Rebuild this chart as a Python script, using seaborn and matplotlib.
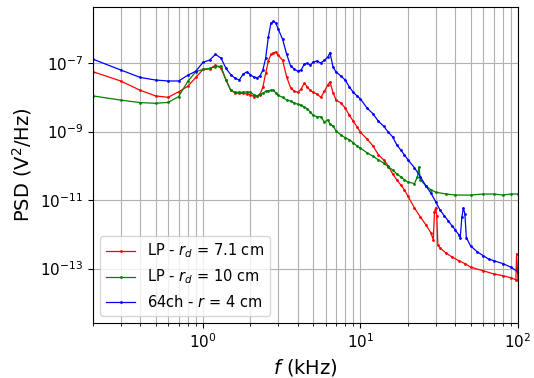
import pandas as pd
import numpy as np
import matplotlib
matplotlib.use("Agg")
import matplotlib.pyplot as plt
import matplotlib.ticker as mticker
import seaborn as sns

# --- data (f in kHz, PSD in V^2/Hz) ---
f_lp71 = [0.2, 0.3, 0.4, 0.5, 0.6, 0.7, 0.8, 0.9, 1.0,
          1.1, 1.2, 1.3, 1.4, 1.5, 1.6, 1.7, 1.8, 1.9, 2.0,
          2.1, 2.2, 2.3, 2.4, 2.5, 2.6, 2.7, 2.8, 2.9, 3.0,
          3.2, 3.4, 3.6, 3.8, 4.0, 4.2, 4.4, 4.6, 4.8,
          5.0, 5.3, 5.6, 5.9, 6.2, 6.4, 6.7,
          7.0, 7.5, 8.0, 8.5, 9.0, 9.5, 10,
          11, 12, 13, 14, 15, 16, 17, 18, 19, 20,
          22, 24, 26, 28, 29, 29.5, 30, 30.5, 31, 32,
          35, 38, 42, 46, 50, 60, 70, 80, 90, 97, 98, 100]
psd_lp71 = [5.6e-8, 3.0e-8, 1.6e-8, 1.1e-8, 1.0e-8, 1.45e-8, 2.1e-8, 3.8e-8, 6.5e-8,
            6.7e-8, 8.7e-8, 7.1e-8, 3.2e-8, 1.6e-8, 1.35e-8, 1.3e-8, 1.3e-8, 1.25e-8, 1.2e-8,
            1.05e-8, 1.1e-8, 1.2e-8, 2.0e-8, 5.0e-8, 1.15e-7, 1.8e-7, 2.0e-7, 2.1e-7, 1.7e-7,
            1.22e-7, 3.9e-8, 1.9e-8, 1.5e-8, 1.4e-8, 1.75e-8, 2.6e-8, 2.0e-8, 1.6e-8,
            1.4e-8, 1.25e-8, 1.0e-8, 1.5e-8, 2.3e-8, 2.8e-8, 1.35e-8,
            8.3e-9, 6.9e-9, 4.9e-9, 3.0e-9, 2.0e-9, 1.4e-9, 9.5e-10,
            6.1e-10, 3.8e-10, 2.1e-10, 1.5e-10, 1.0e-10, 5.8e-11, 3.9e-11, 2.8e-11, 2.0e-11, 1.3e-11,
            5.9e-12, 3.2e-12, 1.9e-12, 1.1e-12, 6.9e-13, 4.5e-12, 5.9e-12, 3.5e-12, 4.9e-13, 4.0e-13,
            2.8e-13, 2.2e-13, 1.7e-13, 1.4e-13, 1.1e-13, 8.6e-14, 7.0e-14, 6.2e-14, 5.4e-14, 4.7e-14, 2.7e-13, 4.7e-14]

f_lp10 = [0.2, 0.3, 0.4, 0.5, 0.6, 0.7, 0.8, 0.9, 1.0,
          1.1, 1.2, 1.3, 1.4, 1.5, 1.6, 1.7, 1.8, 1.9, 2.0,
          2.1, 2.2, 2.3, 2.4, 2.5, 2.6, 2.7, 2.8, 2.9, 3.0,
          3.2, 3.4, 3.6, 3.8, 4.0, 4.2, 4.4, 4.6, 4.8,
          5.0, 5.3, 5.6, 5.9, 6.2, 6.4, 6.7,
          7.0, 7.5, 8.0, 8.5, 9.0, 9.5, 10,
          11, 12, 13, 14, 15, 16, 17, 18, 19, 20,
          22, 23, 23.5, 24, 26, 28, 30, 35, 40, 50, 60, 70, 80, 90, 100]
psd_lp10 = [1.1e-8, 8.3e-9, 7.0e-9, 6.7e-9, 7.1e-9, 1.05e-8, 2.9e-8, 5.6e-8, 6.5e-8,
            7.0e-8, 7.8e-8, 8.2e-8, 3.2e-8, 1.6e-8, 1.4e-8, 1.4e-8, 1.4e-8, 1.45e-8, 1.4e-8,
            1.2e-8, 1.1e-8, 1.25e-8, 1.3e-8, 1.5e-8, 1.55e-8, 1.6e-8, 1.6e-8, 1.35e-8, 1.15e-8,
            1.0e-8, 8.3e-9, 7.8e-9, 6.8e-9, 6.3e-9, 5.9e-9, 5.2e-9, 4.6e-9, 3.7e-9,
            3.0e-9, 2.7e-9, 2.7e-9, 1.9e-9, 2.2e-9, 1.65e-9, 1.45e-9,
            1.05e-9, 8.0e-10, 6.6e-10, 5.8e-10, 4.7e-10, 3.8e-10, 3.3e-10,
            2.4e-10, 1.9e-10, 1.5e-10, 1.2e-10, 9.4e-11, 7.6e-11, 5.8e-11, 4.8e-11, 3.9e-11, 3.4e-11,
            3.0e-11, 4.8e-11, 9.4e-11, 3.9e-11, 2.6e-11, 2.0e-11, 1.7e-11, 1.5e-11, 1.4e-11,
            1.4e-11, 1.5e-11, 1.5e-11, 1.4e-11, 1.5e-11, 1.5e-11]

f_64ch = [0.2, 0.3, 0.4, 0.5, 0.6, 0.7, 0.8, 0.9, 1.0,
          1.1, 1.2, 1.3, 1.4, 1.5, 1.6, 1.7, 1.8, 1.9, 2.0,
          2.1, 2.2, 2.3, 2.4, 2.5, 2.6, 2.7, 2.8, 2.9, 3.0,
          3.2, 3.4, 3.6, 3.8, 4.0, 4.2, 4.4, 4.6, 4.8,
          5.0, 5.3, 5.6, 5.9, 6.2, 6.4, 6.7,
          7.0, 7.5, 8.0, 8.5, 9.0, 9.5, 10,
          11, 12, 13, 14, 15, 16, 17, 18, 19, 20,
          22, 24, 26, 28, 30, 32, 34, 36, 38, 40,
          42, 43, 44, 45, 46, 47,
          50, 55, 60, 65, 70, 80, 90, 100]
psd_64ch = [1.3e-7, 6.3e-8, 3.8e-8, 3.2e-8, 3.0e-8, 3.0e-8, 4.4e-8, 5.8e-8, 1.05e-7,
            1.22e-7, 1.8e-7, 1.4e-7, 7.0e-8, 4.6e-8, 3.6e-8, 3.2e-8, 4.8e-8, 5.5e-8, 4.6e-8,
            3.9e-8, 3.7e-8, 4.2e-8, 6.3e-8, 1.4e-7, 5.8e-7, 1.47e-6, 1.65e-6, 1.47e-6, 1.0e-6,
            5.0e-7, 1.8e-7, 8.2e-8, 6.7e-8, 5.8e-8, 6.3e-8, 9.3e-8, 1.0e-7, 8.7e-8,
            1.07e-7, 1.15e-7, 1.0e-7, 1.22e-7, 1.5e-7, 2.0e-7, 7.6e-8,
            5.5e-8, 4.2e-8, 3.2e-8, 2.0e-8, 1.4e-8, 1.1e-8, 8.9e-9,
            4.9e-9, 3.3e-9, 2.0e-9, 1.45e-9, 9.7e-10, 7.0e-10, 4.1e-10, 2.9e-10, 2.1e-10, 1.5e-10,
            8.8e-11, 4.8e-11, 2.6e-11, 1.6e-11, 9.0e-12, 5.1e-12, 3.5e-12, 2.5e-12, 1.8e-12, 1.35e-12,
            9.8e-13, 8.0e-13, 3.1e-12, 5.9e-12, 4.0e-12, 8.0e-13,
            4.6e-13, 3.1e-13, 2.4e-13, 1.9e-13, 1.7e-13, 1.4e-13, 1.1e-13, 8.0e-14]

labels = ["LP - $r_d$ = 7.1 cm", "LP - $r_d$ = 10 cm", "64ch - $r$ = 4 cm"]
colors = ["red", "green", "blue"]


def make_plot():
    series = [(f_lp71, psd_lp71), (f_lp10, psd_lp10), (f_64ch, psd_64ch)]

    fig = plt.figure(figsize=(5.34, 3.78), dpi=100)
    ax = fig.add_axes([0.174, 0.146, 0.796, 0.836])

    for (f, p), lab, col in zip(series, labels, colors):
        df = pd.DataFrame({"f": f, "psd": p})
        sns.lineplot(data=df, x="f", y="psd", ax=ax, color=col, label=lab,
                     marker=".", markersize=4, markeredgewidth=0,
                     linewidth=0.9, estimator=None, sort=False)

    ax.set_xscale("log")
    ax.set_yscale("log")
    ax.set_xlim(0.2, 100)
    ax.set_ylim(2.6e-15, 4.4e-6)

    ax.yaxis.set_major_locator(mticker.FixedLocator([1e-13, 1e-11, 1e-9, 1e-7]))
    ax.yaxis.set_minor_locator(mticker.NullLocator())

    ax.grid(True, which="major", color="#b0b0b0", linewidth=0.8)
    ax.grid(True, which="minor", axis="x", color="#b0b0b0", linewidth=0.8)
    ax.set_axisbelow(True)

    ax.tick_params(labelsize=11)
    ax.set_xlabel("$f$ (kHz)", fontsize=14)
    ax.set_ylabel("PSD (V$^2$/Hz)", fontsize=14)

    ax.legend(loc="lower left", fontsize=10.5)

    fig.savefig("out.png", dpi=100)


if __name__ == "__main__":
    make_plot()
